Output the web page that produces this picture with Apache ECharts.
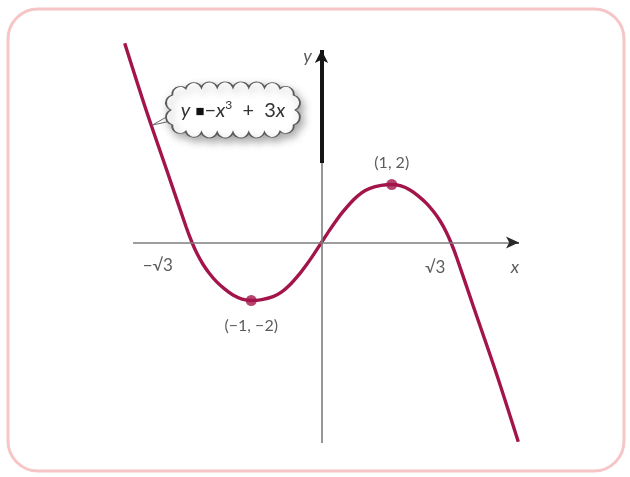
<!DOCTYPE html>
<html>
<head>
<meta charset="utf-8">
<script src="https://cdn.jsdelivr.net/npm/echarts@6/dist/echarts.min.js"></script>
<style>
  html, body { margin: 0; padding: 0; background: #ffffff; }
  #chart { width: 630px; height: 477px; }
</style>
</head>
<body>
<div id="chart"></div>
<script>
// Points along y = -x^3 + 3x
const curveX = [-2.801, -2.494, -2.161, -1.929, -1.843, -1.77, -1.687, -1.6, -1.498, -1.38, -1.26, -1.13, -1.0,
  -0.85, -0.69, -0.571, -0.453, -0.306, -0.216, -0.108, 0, 0.108, 0.216, 0.306, 0.453, 0.571, 0.69, 0.85,
  1.0, 1.13, 1.26, 1.38, 1.498, 1.6, 1.687, 1.77, 1.843, 1.929, 2.161, 2.494, 2.801];
const curveY = [6.869, 4.55, 2.2, 0.55, 0, -0.39, -0.75, -1.05, -1.34, -1.601, -1.811, -1.951, -2.0,
  -1.97, -1.869, -1.714, -1.466, -1.062, -0.776, -0.40, 0, 0.40, 0.776, 1.062, 1.466, 1.714, 1.869, 1.97,
  2.0, 1.951, 1.811, 1.601, 1.34, 1.05, 0.75, 0.39, 0, -0.55, -2.2, -4.55, -6.869];

// Turning points
const extremaX = [-1, 1];
const extremaY = [-2, 2];
const extremaText = ['(\u22121, \u22122)', '(1, 2)'];

// Root labels on the x-axis
const rootX = [-Math.sqrt(3), Math.sqrt(3)];
const rootText = ['\u2212\u221A3', '\u221A3'];

// Axis names
const axisNames = ['x', 'y'];

// Axis extents (grid) and the drawn axis segments
const xMin = -2.811, xMax = 2.854;
const yMin = -6.914, yMax = 6.879;
const xAxisFrom = -2.683, xAxisTo = 2.811;
const yAxisBoldFrom = 2.74, yAxisTo = 6.638;

const curveColor = '#a3154a';
const textColor = '#333333';
const fontFamily = 'Lato, "Liberation Sans", sans-serif';

// Scalloped cloud outline as an SVG path
function cloudPath(W, H, N) {
  const dense = [];
  const M = 1440, p = 5;
  for (let k = 0; k < M; k++) {
    const t = (k / M) * Math.PI * 2 - Math.PI;
    const c = Math.cos(t), s = Math.sin(t);
    const x = W / 2 + (W / 2) * Math.sign(c) * Math.pow(Math.abs(c), 2 / p);
    const y = H / 2 + (H / 2) * Math.sign(s) * Math.pow(Math.abs(s), 2 / p);
    dense.push([x, y]);
  }
  dense.push(dense[0]);
  const cum = [0];
  for (let k = 1; k < dense.length; k++) {
    cum.push(cum[k - 1] + Math.hypot(dense[k][0] - dense[k - 1][0], dense[k][1] - dense[k - 1][1]));
  }
  const L = cum[cum.length - 1];
  const pts = [];
  let j = 0;
  for (let i = 0; i < N; i++) {
    const target = (i / N) * L;
    while (cum[j + 1] < target) j++;
    const f = (target - cum[j]) / (cum[j + 1] - cum[j] || 1);
    pts.push([dense[j][0] + f * (dense[j + 1][0] - dense[j][0]), dense[j][1] + f * (dense[j + 1][1] - dense[j][1])]);
  }
  let d = 'M' + pts[0][0].toFixed(2) + ' ' + pts[0][1].toFixed(2);
  for (let i = 1; i <= N; i++) {
    const a = pts[i - 1], b = pts[i % N];
    const r = Math.hypot(b[0] - a[0], b[1] - a[1]) * 0.53;
    d += ' A' + r.toFixed(2) + ' ' + r.toFixed(2) + ' 0 0 1 ' + b[0].toFixed(2) + ' ' + b[1].toFixed(2);
  }
  return d + ' Z';
}

const chart = echarts.init(document.getElementById('chart'), null, { renderer: 'canvas' });

const curveData = curveX.map((x, i) => [x, curveY[i]]);
const extremaData = extremaX.map((x, i) => ({
  value: [x, extremaY[i]],
  label: {
    formatter: extremaText[i],
    position: extremaY[i] < 0 ? 'bottom' : 'top',
    distance: extremaY[i] < 0 ? 12 : 8
  }
}));
const rootOffsets = [[-42, 23], [-8, 25]];
const rootData = rootX.map((x, i) => ({
  value: [x, 0],
  label: { formatter: rootText[i], offset: rootOffsets[i] }
}));
const nameData = [
  { value: [xAxisTo, 0], label: { formatter: axisNames[0], offset: [-4, 25] } },
  { value: [0, yAxisTo], label: { formatter: axisNames[1], offset: [-14, 6] } }
];

const thin = { color: '#7d7d7d', width: 1.6, type: 'solid' };

chart.setOption({
  animation: false,
  backgroundColor: '#ffffff',
  graphic: [{
    type: 'rect',
    z: -10,
    shape: { x: 8, y: 9, width: 616, height: 462, r: 30 },
    style: { fill: '#ffffff', stroke: '#f6c6c6', lineWidth: 3 }
  }],
  grid: { left: 124, top: 43, width: 398, height: 400 },
  xAxis: {
    type: 'value', min: xMin, max: xMax,
    axisLine: { show: false }, axisTick: { show: false }, axisLabel: { show: false }, splitLine: { show: false }
  },
  yAxis: {
    type: 'value', min: yMin, max: yMax,
    axisLine: { show: false }, axisTick: { show: false }, axisLabel: { show: false }, splitLine: { show: false }
  },
  series: [
    {
      // coordinate axes: thin grey lines, heavy upper y-axis, dark arrowheads
      type: 'line',
      data: [],
      silent: true,
      markLine: {
        silent: true,
        animation: false,
        symbol: 'none',
        label: { show: false },
        lineStyle: { type: 'solid' },
        emphasis: { disabled: true },
        data: [
          [{ coord: [xAxisFrom, 0], lineStyle: thin }, { coord: [xAxisTo - 0.12, 0] }],
          [{ coord: [xAxisTo - 0.13, 0], lineStyle: { color: '#2a2a2a', width: 1.6, type: 'solid' }, symbol: 'none' },
           { coord: [xAxisTo, 0], symbol: 'arrow', symbolSize: [9, 13] }],
          [{ coord: [0, yMin], lineStyle: thin }, { coord: [0, yAxisBoldFrom] }],
          [{ coord: [0, yAxisBoldFrom], lineStyle: { color: '#151515', width: 4, type: 'solid' }, symbol: 'none' },
           { coord: [0, yAxisTo], symbol: 'arrow', symbolSize: [10, 13] }]
        ]
      }
    },
    {
      type: 'line',
      data: curveData,
      smooth: 0.3,
      showSymbol: false,
      lineStyle: { color: curveColor, width: 3.4 },
      z: 3,
      markLine: {
        silent: true,
        animation: false,
        symbol: 'none',
        label: { show: false },
        lineStyle: { color: '#6a6a6a', width: 1, type: 'solid' },
        data: [
          [{ coord: [-2.405, 4.05] }, { coord: [-2.157, 4.40] }],
          [{ coord: [-2.405, 4.05] }, { coord: [-2.140, 4.19] }]
        ]
      },
      markPoint: {
        silent: true,
        animation: false,
        data: [{
          coord: [-1.26, 4.57],
          symbol: 'path://' + cloudPath(130, 50, 20),
          symbolSize: [134, 56],
          symbolKeepAspect: false,
          itemStyle: {
            color: '#ffffff', borderColor: '#5a5a5a', borderWidth: 1.2,
            shadowBlur: 8, shadowColor: 'rgba(0,0,0,0.35)', shadowOffsetX: 3, shadowOffsetY: 4
          },
          label: {
            show: true,
            position: 'inside',
            offset: [0, 1],
            formatter: '{i|y}{n| }{b|\u25A0}{n|\u2212}{i|x}{s|3}{n|  +  3}{i|x}',
            rich: {
              i: { fontFamily: fontFamily, fontStyle: 'italic', fontSize: 20, color: '#333' },
              n: { fontFamily: fontFamily, fontSize: 20, color: '#333' },
              b: { fontFamily: fontFamily, fontSize: 15, color: '#111' },
              s: { fontFamily: fontFamily, fontSize: 12, color: '#333', padding: [0, 0, 12, 0] }
            }
          }
        }]
      }
    },
    {
      type: 'scatter',
      data: extremaData,
      symbol: 'circle',
      symbolSize: 11,
      itemStyle: { color: curveColor },
      z: 4,
      label: { show: true, color: textColor, fontFamily: fontFamily, fontSize: 16 }
    },
    {
      type: 'scatter',
      data: rootData,
      symbolSize: 0,
      silent: true,
      label: { show: true, position: 'inside', color: textColor, fontFamily: fontFamily, fontSize: 17 }
    },
    {
      type: 'scatter',
      data: nameData,
      symbolSize: 0,
      silent: true,
      label: { show: true, position: 'inside', color: textColor, fontFamily: fontFamily, fontStyle: 'italic', fontSize: 18 }
    }
  ]
});
</script>
</body>
</html>
